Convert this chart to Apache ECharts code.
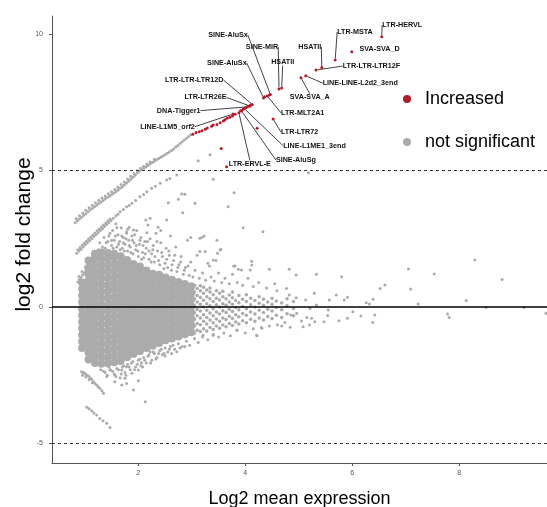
<!DOCTYPE html>
<html><head><meta charset="utf-8">
<script src="https://cdn.jsdelivr.net/npm/echarts@6/dist/echarts.min.js"></script>
<style>html,body{margin:0;padding:0;background:#fff}#c{width:547px;height:507px}</style>
</head><body><div id="c"></div>
<script>
// ---------- DATA ----------
const xTicks = [2, 4, 6, 8];
const yTicks = [-5, 0, 5, 10];
const thresholds = [5, -5];
const baseline = 0;

// dense core of the cloud, column by column (x, list of y)
const coreX = [0.95,1.07,1.19,1.31,1.43,1.55,1.67,1.79,1.91,2.03,2.15,2.27,2.39,2.51,2.63,2.75,2.87,2.99];
const coreY = [
 [-1.5,-1.26,-1.02,-0.78,-0.54,-0.3,-0.06,0.18,0.42,0.66,0.9],
 [-1.92,-1.68,-1.44,-1.2,-0.96,-0.72,-0.48,-0.24,0,0.24,0.48,0.72,0.96,1.2,1.44,1.7],
 [-2.05,-1.8,-1.56,-1.32,-1.08,-0.84,-0.6,-0.36,-0.12,0.12,0.36,0.6,0.84,1.08,1.32,1.56,1.8,1.95],
 [-2.08,-1.84,-1.6,-1.36,-1.12,-0.88,-0.64,-0.4,-0.16,0.08,0.32,0.56,0.8,1.04,1.28,1.52,1.76,2.0],
 [-2.06,-1.82,-1.58,-1.34,-1.1,-0.86,-0.62,-0.38,-0.14,0.1,0.34,0.58,0.82,1.06,1.3,1.54,1.78,1.98],
 [-2.02,-1.78,-1.54,-1.3,-1.06,-0.82,-0.58,-0.34,-0.1,0.14,0.38,0.62,0.86,1.1,1.34,1.58,1.82,1.95],
 [-1.98,-1.74,-1.5,-1.26,-1.02,-0.78,-0.54,-0.3,-0.06,0.18,0.42,0.66,0.9,1.14,1.38,1.62,1.86],
 [-1.84,-1.6,-1.36,-1.12,-0.88,-0.64,-0.4,-0.16,0.08,0.32,0.56,0.8,1.04,1.28,1.52,1.72],
 [-1.72,-1.48,-1.24,-1.0,-0.76,-0.52,-0.28,-0.04,0.2,0.44,0.68,0.92,1.16,1.4,1.58],
 [-1.62,-1.38,-1.14,-0.9,-0.66,-0.42,-0.18,0.06,0.3,0.54,0.78,1.02,1.26,1.48],
 [-1.5,-1.26,-1.02,-0.78,-0.54,-0.3,-0.06,0.18,0.42,0.66,0.9,1.14,1.34],
 [-1.42,-1.18,-0.94,-0.7,-0.46,-0.22,0.02,0.26,0.5,0.74,0.98,1.22],
 [-1.32,-1.08,-0.84,-0.6,-0.36,-0.12,0.12,0.36,0.6,0.84,1.08,1.18],
 [-1.22,-0.98,-0.74,-0.5,-0.26,-0.02,0.22,0.46,0.7,0.94,1.08],
 [-1.15,-0.91,-0.67,-0.43,-0.19,0.05,0.29,0.53,0.77,1.0],
 [-1.08,-0.84,-0.6,-0.36,-0.12,0.12,0.36,0.6,0.84,0.92],
 [-1.0,-0.76,-0.52,-0.28,-0.04,0.2,0.44,0.68,0.84],
 [-0.92,-0.68,-0.44,-0.2,0.04,0.28,0.52,0.76]
];

// speckled part of the cloud to the right of the core
const midX = [3.05,3.10,3.16,3.22,3.28,3.34,3.40,3.46,3.52,3.58,3.64,3.70,3.76,3.82,3.88,3.95,4.02,4.10,4.18,4.26,4.34,4.42,4.50,4.58,4.68,4.78,4.90];
const midY = [
 [-0.95,-0.7,-0.45,-0.2,0.05,0.3,0.55,0.8],
 [-0.85,-0.6,-0.32,-0.08,0.18,0.42,0.68],
 [-0.9,-0.65,-0.4,-0.15,0.1,0.35,0.6,0.78],
 [-0.8,-0.52,-0.28,0.0,0.25,0.5,0.72],
 [-0.88,-0.62,-0.38,-0.12,0.12,0.38,0.62],
 [-0.75,-0.48,-0.22,0.05,0.3,0.55,0.7],
 [-0.82,-0.58,-0.32,-0.06,0.2,0.45],
 [-0.7,-0.44,-0.18,0.08,0.32,0.6],
 [-0.78,-0.52,-0.26,0.0,0.26,0.5],
 [-0.66,-0.4,-0.14,0.12,0.38,0.58],
 [-0.72,-0.46,-0.2,0.06,0.3],
 [-0.6,-0.34,-0.08,0.18,0.44],
 [-0.68,-0.42,-0.16,0.1,0.34,0.55],
 [-0.55,-0.28,-0.02,0.24],
 [-0.62,-0.36,-0.1,0.16,0.42],
 [-0.5,-0.24,0.02,0.28],
 [-0.58,-0.3,-0.06,0.2,0.45],
 [-0.45,-0.18,0.08,0.32],
 [-0.52,-0.26,0.0,0.24],
 [-0.4,-0.12,0.14,0.38],
 [-0.48,-0.2,0.06,0.28],
 [-0.35,-0.08,0.18],
 [-0.42,-0.15,0.1,0.32],
 [-0.3,-0.02,0.22],
 [-0.38,-0.1,0.15],
 [-0.25,0.05,0.3],
 [-0.32,-0.05,0.2]
];

// upper diagonal band (one condition empty)
const bandTop = [[0.82,3.09],[0.86,3.16],[0.9,3.22],[0.94,3.29],[0.98,3.36],[1.02,3.42],[1.06,3.49],[1.1,3.55],[1.14,3.61],[1.18,3.67],[1.22,3.73],[1.26,3.79],[1.3,3.85],[1.34,3.9],[1.38,3.96],[1.42,4.01],[1.46,4.06],[1.5,4.11],[1.54,4.17],[1.58,4.22],[1.62,4.28],[1.66,4.35],[1.7,4.4],[1.74,4.47],[1.78,4.54],[1.82,4.61],[1.86,4.68],[1.9,4.75],[1.94,4.83],[1.98,4.91],[2.02,4.97],[2.06,5.03],[2.1,5.08],[2.14,5.13],[2.18,5.18],[2.22,5.24],[2.26,5.29],[2.3,5.34],[2.34,5.39],[2.38,5.44],[2.42,5.49],[2.46,5.53],[2.5,5.58],[2.54,5.63],[2.58,5.68],[2.62,5.73],[2.66,5.79],[2.7,5.86],[2.74,5.92],[2.78,5.99],[2.82,6.05],[2.86,6.12],[2.9,6.18],[2.94,6.25],[2.98,6.31],
 [0.84,3.24],[0.9,3.34],[0.96,3.44],[1.02,3.54],[1.08,3.64],[1.14,3.73],[1.2,3.82],[1.26,3.91],[1.32,3.99],[1.38,4.07],[1.44,4.15],[1.5,4.22],[1.56,4.3],[1.62,4.39],[1.68,4.49],[1.74,4.58],[1.8,4.69],[1.86,4.79],[1.92,4.89],[1.98,5.0],[2.04,5.08],[2.1,5.16],[2.16,5.24],[2.22,5.31],[2.3,5.41]];
const bandSecond = [[0.85,1.97],[0.89,2.05],[0.93,2.12],[0.97,2.2],[1.01,2.28],[1.05,2.35],[1.09,2.43],[1.13,2.5],[1.17,2.58],[1.21,2.65],[1.25,2.72],[1.29,2.8],[1.33,2.87],[1.37,2.95],[1.41,3.02],[1.45,3.1],[1.49,3.17],[1.53,3.25],
 [0.87,2.1],[0.91,2.18],[0.95,2.26],[0.99,2.34],[1.03,2.41],[1.07,2.49],[1.11,2.56],[1.15,2.64],[1.19,2.71],[1.23,2.79],[1.27,2.86],[1.31,2.93],[1.35,3.0],[1.39,3.08],[1.43,3.15],[1.47,3.22],
 [1.58,3.33],[1.62,3.4],[1.66,3.49],[1.72,3.57],[1.78,3.67],[1.83,3.72],[1.88,3.80],[1.95,3.9],[2.03,4.04],[2.1,4.12],[2.16,4.22],[2.25,4.35],[2.32,4.42],[2.41,4.53],[2.53,4.65],[2.59,4.71],[2.72,4.84]];
const bandThird = [[0.87,0.92],[0.9,1.01],[0.93,1.08],[0.96,1.17],[0.99,1.24],[1.02,1.33],[1.05,1.4],[1.08,1.49],[1.11,1.56],[1.14,1.65],[1.17,1.72],[1.2,1.8],[1.23,1.85],[1.26,1.91],[1.3,1.95],[1.34,1.99],[0.89,1.12],[0.95,1.3],[1.01,1.46],[1.07,1.62],[1.13,1.77],[1.19,1.9]];
const bandLow1 = [[0.94,-2.37],[0.97,-2.4],[1.0,-2.43],[1.03,-2.48],[1.07,-2.53],[1.1,-2.59],[1.13,-2.65],[1.16,-2.74],[1.19,-2.8],[1.22,-2.86],[1.25,-2.92],[1.28,-2.98],[1.32,-3.07],[1.35,-3.16],[0.96,-2.5],[1.02,-2.56],[1.08,-2.66],[1.14,-2.77]];
const bandLow2 = [[1.04,-3.67],[1.08,-3.73],[1.13,-3.80],[1.17,-3.88],[1.22,-3.96],[1.28,-4.08],[1.34,-4.17],[1.41,-4.26],[1.47,-4.41]];

// scattered points around the cloud
const fringeUpper = [[1.40,2.35],[1.45,2.6],[1.50,2.25],[1.52,2.8],[1.55,2.45],[1.58,3.05],[1.60,2.2],[1.62,2.65],[1.65,2.4],[1.68,2.9],[1.70,2.15],[1.72,2.55],[1.75,2.3],[1.78,2.75],[1.80,2.05],[1.82,2.45],[1.85,2.2],[1.88,2.6],[1.90,1.95],[1.92,2.35],[1.95,2.1],[1.97,2.8],[2.0,1.85],[2.02,2.3],[2.05,2.55],[2.08,2.0],[2.1,1.8],[2.12,2.4],[2.15,2.15],[2.18,3.0],[2.2,1.75],[2.22,2.5],[2.25,1.95],[2.28,2.25],[2.3,1.65],[2.33,2.7],[2.36,2.05],[2.4,1.55],[2.42,2.35],[2.45,1.85],[2.5,1.6],[2.52,2.15],[2.55,1.45],[2.58,1.9],[2.6,2.6],[2.62,1.35],[2.66,1.7],[2.7,2.2],[2.72,1.3],[2.76,1.55],[2.8,1.85],[2.84,1.2],[2.88,1.45],[2.92,2.45],[2.95,1.15],[2.98,1.65],[3.02,1.1],[3.06,1.35],[3.1,1.9],[3.14,1.05],[3.2,1.25],[3.26,0.98],[3.3,1.6],[3.36,1.1],[3.42,0.95],[3.5,1.25],[3.56,0.9],[3.62,1.05],[3.7,0.85],[3.76,1.2],[3.85,0.9],[3.95,0.8],[4.05,1.05],[4.15,0.75],[4.25,0.9],[4.4,0.7],[4.55,0.85],
 [1.25,2.1],[1.28,2.35],[1.33,2.2],[1.36,2.55],[1.38,2.15],[1.43,2.4],[1.47,2.7],[1.5,2.45],[1.53,2.15],[1.57,2.6],[1.6,2.9],[1.63,2.3],[1.66,2.1],[1.69,2.6],[1.72,2.35],[1.74,2.05],[1.77,2.5],[1.8,2.85],[1.83,2.25],[1.86,2.0],[1.89,2.45],[1.93,2.65],[1.96,2.25],[1.99,2.05],[2.03,2.45],[2.06,1.75],[2.09,2.25],[2.13,1.95],[2.17,2.4],[2.2,2.05],[2.24,1.65],[2.27,2.1],[2.31,1.85],[2.35,2.4],[2.38,1.7],[2.44,2.0],[2.48,1.4],[2.53,1.75],[2.57,2.05],[2.63,1.55],[2.68,1.9],[2.74,1.45],[2.79,1.65],[2.86,1.35],[2.93,1.5]];
const fringeLower = [[1.35,-2.35],[1.42,-2.5],[1.48,-2.3],[1.55,-2.45],[1.6,-2.25],[1.66,-2.6],[1.7,-2.2],[1.75,-2.4],[1.8,-2.1],[1.85,-2.3],[1.9,-2.0],[1.95,-2.2],[2.0,-1.95],[2.05,-2.15],[2.1,-1.85],[2.15,-2.05],[2.2,-1.75],[2.25,-1.95],[2.3,-1.7],[2.35,-1.85],[2.4,-1.6],[2.45,-1.75],[2.5,-1.5],[2.55,-1.65],[2.6,-1.45],[2.68,-1.55],[2.75,-1.35],[2.82,-1.45],[2.9,-1.25],[2.96,-1.4],[3.05,-1.15],[3.12,-1.3],[3.2,-1.1],[3.3,-1.2],[3.4,-1.0],[3.5,-1.1],[3.6,-0.95],[3.72,-1.05],[3.85,-0.85],[4.0,-0.95],[4.15,-0.8],[4.3,-0.75],[4.45,-0.7],[4.6,-0.65],
 [1.47,-2.31],[1.56,-2.49],[1.69,-2.31],[1.78,-2.19],[1.88,-2.43],[2.00,-2.31],[2.06,-2.04],[1.56,-2.74],[1.69,-2.86],[1.78,-2.80],[1.91,-3.04],[2.00,-2.70],[2.22,-1.64],[2.50,-1.79],[2.62,-1.70],[2.72,-1.64],[1.75,-2.61],[1.41,-2.55],[2.87,-1.45],[3.21,-1.03],[3.40,-1.03],[3.84,-0.84],[4.21,-1.03],[4.31,-0.78],[2.13,-3.47],
 [1.3,-2.3],[1.38,-2.4],[1.45,-2.2],[1.52,-2.35],[1.58,-2.55],[1.63,-2.3],[1.68,-2.45],[1.73,-2.15],[1.77,-2.5],[1.83,-2.2],[1.87,-2.05],[1.93,-2.3],[1.98,-2.1],[2.03,-1.9],[2.08,-2.2],[2.12,-1.95],[2.18,-1.8],[2.23,-2.05],[2.28,-1.65],[2.33,-1.9],[2.38,-1.7],[2.43,-1.55],[2.48,-1.7],[2.58,-1.55],[2.65,-1.4],[2.78,-1.5]];
const outliers = [[3.12,5.36],[3.34,5.58],[3.40,4.68],[3.79,4.19],[2.87,4.13],[2.81,4.14],[2.75,3.95],[2.56,3.82],[3.06,3.80],[2.83,3.45],[2.53,3.19],[2.22,3.25],[2.14,3.19],[2.42,2.80],[2.37,2.92],[3.96,2.90],[4.33,2.76],[3.47,2.45],[2.98,2.55],[3.19,2.55],[2.16,2.72],[1.83,2.92],[1.91,2.82],[1.78,2.70],[3.25,2.03],[3.53,2.09],[3.78,1.50],[3.40,1.72],[4.12,1.68],[4.12,1.54],[3.93,1.36],[4.09,1.36],[3.68,3.67],[3.15,2.52],[3.23,2.60],[3.15,2.03],[3.54,2.12],[3.48,1.97],[3.45,1.70],[3.33,1.50],[3.81,1.50],[3.87,1.38],[4.45,1.38],[4.82,1.38],[4.95,1.17],[5.33,1.20],[5.80,1.11],[6.61,0.81],[6.52,0.68],[5.18,4.92],[7.05,1.39],[7.53,1.21],[8.29,1.72],[8.80,1.01],[7.09,0.66],[6.39,0.28],[6.32,0.11],[6.26,0.16],[7.23,0.11],[8.13,0.24],[8.50,-0.02],[9.21,-0.02],[9.62,-0.23],[7.78,-0.26],[7.81,-0.38],[6.42,-0.29],[6.38,-0.57],[6.16,-0.33],[6.01,-0.17],[5.91,-0.41],[5.75,-0.50],[5.54,-0.31],[5.47,-0.54],[4.22,-1.05],[5.91,0.36],[5.85,0.26],[5.70,0.44],[5.57,0.26],[5.29,0.50],[5.13,0.26],[4.95,0.34],[4.77,0.68],[4.82,0.44],[4.59,0.60],[5.33,0.07],[5.21,-0.05],[5.24,-0.41],[5.15,-0.38],[5.05,-0.51],[5.30,-0.54],[5.08,-0.72],[5.20,-0.66],[4.84,-0.74],[4.68,-0.70],[4.74,-0.57],[4.85,-0.29],[4.96,-0.23],[5.55,-0.11]];

// significantly increased (red)
const redStreak = [[3.02,6.33],[3.08,6.39],[3.14,6.42],[3.19,6.46],[3.25,6.51],[3.29,6.56],[3.37,6.62],[3.40,6.67],[3.47,6.69],[3.53,6.75],[3.59,6.81],[3.62,6.86],[3.66,6.91],[3.71,6.95],[3.76,7.00],[3.81,7.06],[3.91,7.19],[3.96,7.24],[4.01,7.30],[4.06,7.35],[4.10,7.40]];
const redOther = [[3.55,5.81],[3.65,5.14],[4.22,6.55],[4.36,7.70],[4.45,7.77]];
const geneNames = ['LTR-HERVL','SVA-SVA_D','LTR-MSTA','HSATII','LTR-LTR-LTR12F','LINE-LINE-L2d2_3end','SVA-SVA_A','HSATII','SINE-MIR','SINE-AluSx','SINE-AluSx','LTR-LTR-LTR12D','LTR-LTR26E','DNA-Tigger1','LINE-L1M5_orf2','LTR-MLT2A1','LTR-LTR72','LINE-L1ME1_3end','SINE-AluSg','LTR-ERVL-E'];
const geneX = [6.55,5.99,5.68,5.43,5.32,5.13,5.04,4.68,4.63,4.47,4.34,4.13,4.09,4.03,3.77,4.41,4.52,3.98,3.93,3.88];
const geneY = [9.90,9.35,9.05,8.77,8.68,8.47,8.40,8.02,7.99,7.78,7.66,7.42,7.36,7.33,7.07,7.73,6.89,7.27,7.18,7.12];

// ---------- LAYOUT (label offsets in px, from point to label centre) ----------
const labelOffsets = [[20.5,-11.7],[27.8,-2.7],[19.8,-28],[-12,-20.7],[55.5,-4],[54.5,7.3],[8.8,19.6],[1,-26],[-17,-42],[-42.4,-59.7],[-36.6,-35],[-58,-24.5],[-44.7,-8.7],[-68.2,3.7],[-65.5,12.7],[35.5,17],[26.5,13.3],[70.3,37.2],[54.3,49],[11,51.3]];
const noLine = {1: true};

const GRAY = '#ABABAB', RED = '#B31B2B';
const FONT = 'Liberation Sans, Arial, sans-serif';

const coreData = coreX.flatMap((x, i) => coreY[i].map(y => [x, y]));
const midData = midX.flatMap((x, i) => midY[i].map(y => [x, y]));
const sparseData = [].concat(bandTop, bandSecond, bandThird, bandLow1, bandLow2, fringeUpper, fringeLower, outliers);
const geneData = geneNames.map((n, i) => ({
  value: [geneX[i], geneY[i]], name: n,
  labelLine: { show: !noLine[i] }
}));

const chart = echarts.init(document.getElementById('c'), null, { renderer: 'canvas' });
chart.setOption({
  animation: false,
  backgroundColor: '#fff',
  grid: { left: 52, right: 0, top: 16, bottom: 44, containLabel: false, outerBoundsMode: 'none' },
  legend: {
    orient: 'vertical', left: 398, top: 85, itemWidth: 26, itemHeight: 8, itemGap: 25,
    icon: 'circle',
    data: ['Increased', 'not significant'],
    textStyle: { fontSize: 18, color: '#000', fontFamily: FONT }
  },
  xAxis: {
    type: 'value', min: 0.387, max: 9.639,
    name: 'Log2 mean expression', nameLocation: 'middle', nameGap: 27, nameMoveOverlap: false,
    nameTextStyle: { fontSize: 18, color: '#000', fontFamily: FONT },
    axisLine: { show: true, onZero: false, lineStyle: { color: '#555', width: 1 } },
    axisTick: { show: true, length: 3, customValues: xTicks, lineStyle: { color: '#555' } },
    axisLabel: { customValues: xTicks, fontSize: 7, color: '#555', margin: 7, fontFamily: FONT },
    splitLine: { show: false }
  },
  yAxis: {
    type: 'value', min: -5.714, max: 10.66,
    name: 'log2 fold change', nameLocation: 'middle', nameGap: 17, nameMoveOverlap: false,
    nameTextStyle: { fontSize: 21, color: '#000', fontFamily: FONT, padding: [0, 0, 0, 10] },
    axisLine: { show: true, onZero: false, lineStyle: { color: '#555', width: 1 } },
    axisTick: { show: true, length: 3, customValues: yTicks, lineStyle: { color: '#555' } },
    axisLabel: { customValues: yTicks, fontSize: 7, color: '#555', margin: 9, fontFamily: FONT },
    splitLine: { show: false }
  },
  series: [
    { name: 'not significant', type: 'scatter', data: coreData, symbolSize: 8,
      itemStyle: { color: GRAY, opacity: 1 }, z: 2,
      markLine: { silent: true, symbol: ['none', 'none'], label: { show: false },
        data: [
          { yAxis: baseline, lineStyle: { color: '#000', width: 1.5, type: 'solid' } },
          { yAxis: thresholds[0], lineStyle: { color: '#333', width: 1, type: [3, 3] } },
          { yAxis: thresholds[1], lineStyle: { color: '#333', width: 1, type: [3, 3] } }
        ] } },
    { name: 'not significant', type: 'scatter', data: midData, symbolSize: 3.5, itemStyle: { color: GRAY, opacity: 1 }, z: 2 },
    { name: 'not significant', type: 'scatter', data: sparseData, symbolSize: 3, itemStyle: { color: GRAY, opacity: 1 }, z: 2 },
    { name: 'Increased', type: 'scatter', data: redStreak.concat(redOther), symbolSize: 3, itemStyle: { color: RED, opacity: 1 }, z: 3 },
    { name: 'Increased', type: 'scatter', data: geneData, symbolSize: 3, itemStyle: { color: RED, opacity: 1 }, z: 4,
      label: { show: true, position: 'inside', formatter: p => geneNames[p.dataIndex],
        fontSize: 7.2, fontWeight: 'bold', color: '#111', fontFamily: FONT },
      labelLayout: p => ({ dx: labelOffsets[p.dataIndex][0], dy: labelOffsets[p.dataIndex][1] }),
      labelLine: { show: true, length2: 0, lineStyle: { color: '#111', width: 0.8 } }
    }
  ]
});
</script></body></html>
